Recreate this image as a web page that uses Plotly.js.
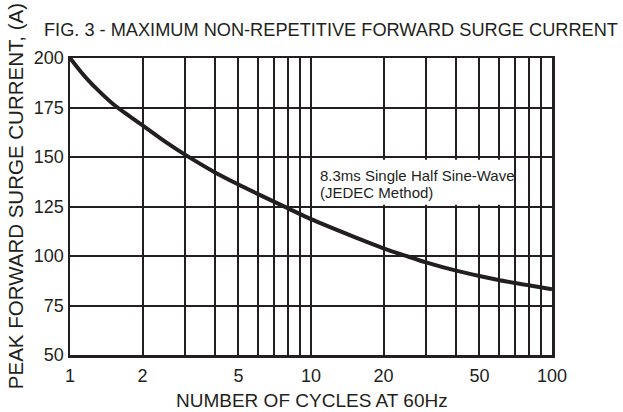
<!DOCTYPE html>
<html>
<head>
<meta charset="utf-8">
<script src="https://cdn.plot.ly/plotly-3.0.1.min.js"></script>
<style>html,body{margin:0;padding:0;background:#fff;}#chart{width:623px;height:412px;}</style>
</head>
<body>
<div id="chart"></div>
<script>
const cycles = [1, 1.1, 1.2, 1.3, 1.5, 1.7, 2, 2.5, 3, 4, 5, 6, 8, 10, 15, 20, 25, 30, 40, 50, 60, 80, 100];
const current = [200, 193.6, 188.3, 184, 177, 172, 166, 157.5, 151.2, 142.2, 136.1, 131.4, 124.2, 118.6, 109.8, 103.9, 99.9, 96.8, 92.6, 89.9, 87.9, 85.2, 83.2];
const gridVals = [1,2,3,4,5,6,7,8,9,10,20,30,40,50,60,70,80,90,100];
const tickLabels = ['1','2','','','5','','','','','10','20','','','50','','','','','100'];
const yTicks = [50, 75, 100, 125, 150, 175, 200];
const ink = '#231f20';
const font = 'Liberation Sans, Arial, sans-serif';

const trace = {
  x: cycles, y: current, type: 'scatter', mode: 'lines',
  line: {color: ink, width: 4, shape: 'spline', smoothing: 0.8},
  hoverinfo: 'none', showlegend: false
};

const layout = {
  width: 623, height: 412,
  margin: {l: 70, r: 71, t: 58, b: 57},
  paper_bgcolor: '#fff', plot_bgcolor: '#fff',
  font: {family: font, color: ink, size: 18},
  xaxis: {
    type: 'log', range: [0, 2],
    tickvals: gridVals, ticktext: tickLabels,
    showgrid: true, gridcolor: ink, gridwidth: 2,
    showline: true, linecolor: ink, linewidth: 2.5, mirror: true,
    ticks: '', zeroline: false, ticklabelstandoff: 3,
    tickfont: {size: 18, family: font, color: ink}
  },
  yaxis: {
    range: [50, 200],
    tickvals: yTicks,
    showgrid: true, gridcolor: ink, gridwidth: 2,
    showline: true, linecolor: ink, linewidth: 2.5, mirror: true,
    ticks: '', zeroline: false,
    tickfont: {size: 18, family: font, color: ink}
  },
  shapes: [
    {type: 'rect', xref: 'paper', yref: 'paper', x0: 0.506, x1: 0.913, y0: 0.506, y1: 0.657,
     fillcolor: '#fff', line: {width: 0}, layer: 'above'}
  ],
  annotations: [
    {
      text: 'FIG. 3 - MAXIMUM NON-REPETITIVE FORWARD SURGE CURRENT',
      xref: 'paper', yref: 'paper', x: 1.141, y: 1.094, xanchor: 'right', yanchor: 'middle',
      showarrow: false, font: {size: 18.2, family: font, color: ink}
    },
    {
      text: 'PEAK FORWARD SURGE CURRENT, (A)',
      xref: 'paper', yref: 'paper', x: -0.114, y: 0.535, xanchor: 'center', yanchor: 'middle',
      textangle: -90, showarrow: false, font: {size: 20.5, family: font, color: ink}
    },
    {
      text: 'NUMBER OF CYCLES AT 60Hz',
      xref: 'paper', yref: 'paper', x: 0.502, y: -0.152, xanchor: 'center', yanchor: 'middle',
      showarrow: false, font: {size: 19, family: font, color: ink}
    },
    {
      text: '8.3ms Single Half Sine-Wave',
      xref: 'paper', yref: 'paper', x: 0.5145, y: 0.603, xanchor: 'left', yanchor: 'middle',
      showarrow: false, font: {size: 15, family: font, color: ink}
    },
    {
      text: '(JEDEC Method)',
      xref: 'paper', yref: 'paper', x: 0.5145, y: 0.547, xanchor: 'left', yanchor: 'middle',
      showarrow: false, font: {size: 15, family: font, color: ink}
    }
  ]
};

Plotly.newPlot('chart', [trace], layout, {staticPlot: true, displayModeBar: false});
</script>
</body>
</html>
